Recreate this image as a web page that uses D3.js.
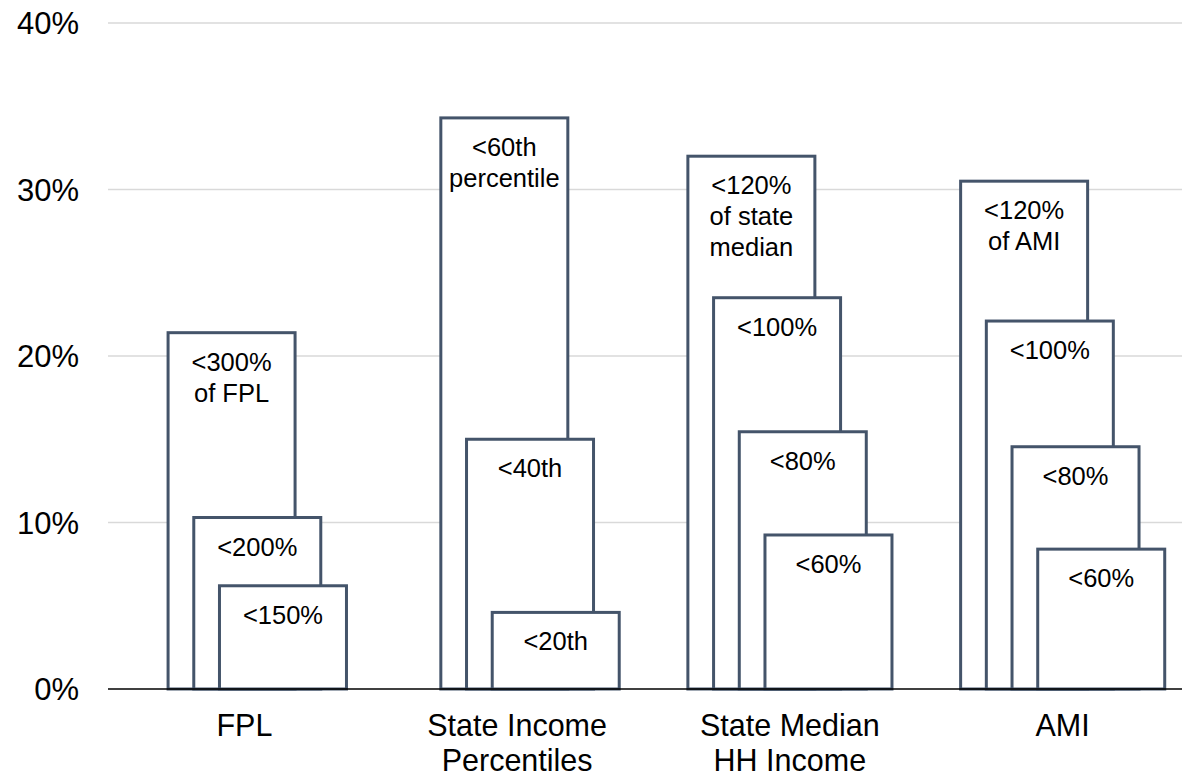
<!DOCTYPE html>
<html>
<head>
<meta charset="utf-8">
<script src="https://cdn.jsdelivr.net/npm/d3@7/dist/d3.min.js"></script>
<style>
  html, body { margin: 0; padding: 0; background: #ffffff; }
  svg { display: block; font-family: "Liberation Sans", Arial, sans-serif; }
</style>
</head>
<body>
<svg id="chart" width="1191" height="777"></svg>
<script>
// Income-eligibility thresholds by measure: share of households under each cutoff (%)
const categories = ["FPL", "State Income Percentiles", "State Median HH Income", "AMI"];
const categoryLines = [["FPL"], ["State Income", "Percentiles"], ["State Median", "HH Income"], ["AMI"]];

// One array per nested tier, widest cutoff first (null = tier not used by that measure)
const tier1 = [null, null, 32.0, 30.5];
const tier2 = [21.4, 34.3, 23.5, 22.1];
const tier3 = [10.3, 15.0, 15.45, 14.55];
const tier4 = [6.2, 4.6, 9.25, 8.4];

const tier1Labels = [null, null, ["<120%", "of state", "median"], ["<120%", "of AMI"]];
const tier2Labels = [["<300%", "of FPL"], ["<60th", "percentile"], ["<100%"], ["<100%"]];
const tier3Labels = [["<200%"], ["<40th"], ["<80%"], ["<80%"]];
const tier4Labels = [["<150%"], ["<20th"], ["<60%"], ["<60%"]];

const yTicks = [0, 10, 20, 30, 40];

const tiers = [
  { values: tier1, labels: tier1Labels },
  { values: tier2, labels: tier2Labels },
  { values: tier3, labels: tier3Labels },
  { values: tier4, labels: tier4Labels }
];

const svg = d3.select("#chart");
const plot = { left: 108, right: 1199, top: 23, bottom: 689, lineEnd: 1182 };

const x = d3.scaleBand().domain(categories).range([plot.left, plot.right]).padding(0);
const y = d3.scaleLinear().domain([0, 40]).range([plot.bottom, plot.top]);

// position of each tier inside a category group
const barWidth = 127;
const slot = d3.scaleLinear().domain([0, 3]).range([-102, -102 + 3 * 25.7]);

const strokeColor = "#44546a";

// gridlines
svg.append("g")
  .selectAll("line")
  .data(yTicks.filter(d => d > 0))
  .join("line")
  .attr("x1", plot.left)
  .attr("x2", plot.lineEnd)
  .attr("y1", d => y(d))
  .attr("y2", d => y(d))
  .attr("stroke", "#d9d9d9")
  .attr("stroke-width", 1.3);

// y axis labels
const yAxis = d3.axisLeft(y).tickValues(yTicks).tickFormat(d => d + "%").tickSize(0).tickPadding(29);
const yg = svg.append("g").attr("transform", `translate(${plot.left},0)`).call(yAxis);
yg.select(".domain").remove();
yg.selectAll("text")
  .attr("font-family", "Liberation Sans, Arial, sans-serif")
  .attr("font-size", 31)
  .attr("fill", "#000")
  .attr("dy", "0.35em");

// bars: drawn widest tier first so narrower tiers overlap it
const barsG = svg.append("g");
tiers.forEach((tier, ti) => {
  const items = categories.map((c, i) => ({ cat: c, value: tier.values[i], label: tier.labels[i] }))
    .filter(d => d.value != null);
  const g = barsG.append("g");
  const cx = d => x(d.cat) + x.bandwidth() / 2 + slot(ti);

  g.selectAll("rect")
    .data(items)
    .join("rect")
    .attr("x", d => cx(d))
    .attr("y", d => y(d.value))
    .attr("width", barWidth)
    .attr("height", d => y(0) - y(d.value))
    .attr("fill", "#ffffff")
    .attr("stroke", strokeColor)
    .attr("stroke-width", 3);

  g.selectAll("text")
    .data(items)
    .join("text")
    .attr("x", d => cx(d) + barWidth / 2)
    .attr("y", d => y(d.value) + 38)
    .attr("text-anchor", "middle")
    .attr("font-size", 25.5)
    .attr("fill", "#000")
    .selectAll("tspan")
    .data(d => d.label)
    .join("tspan")
    .attr("x", function() { return d3.select(this.parentNode).attr("x"); })
    .attr("dy", (d, i) => i === 0 ? 0 : 31)
    .text(d => d);
});

// baseline axis
svg.append("line")
  .attr("x1", plot.left)
  .attr("x2", plot.lineEnd)
  .attr("y1", y(0))
  .attr("y2", y(0))
  .attr("stroke", "#000")
  .attr("stroke-width", 1.4);

// category labels
svg.append("g")
  .selectAll("text")
  .data(categories)
  .join("text")
  .attr("x", d => x(d) + x.bandwidth() / 2)
  .attr("y", 736)
  .attr("text-anchor", "middle")
  .attr("font-size", 30.5)
  .attr("fill", "#000")
  .selectAll("tspan")
  .data((d, i) => categoryLines[i])
  .join("tspan")
  .attr("x", function() { return d3.select(this.parentNode).attr("x"); })
  .attr("dy", (d, i) => i === 0 ? 0 : 35)
  .text(d => d);
</script>
</body>
</html>
